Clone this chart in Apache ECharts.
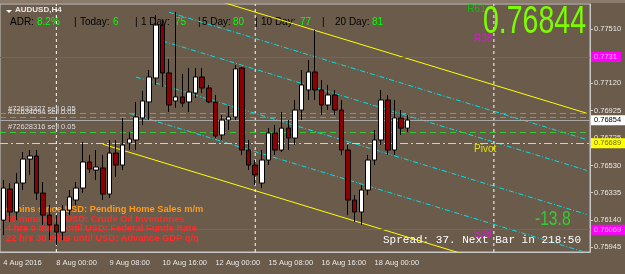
<!DOCTYPE html>
<html><head><meta charset="utf-8">
<script src="https://cdn.jsdelivr.net/npm/echarts@6/dist/echarts.min.js"></script>
<style>html,body{margin:0;padding:0;background:#6b5b4b}#c{width:625px;height:274px}</style>
</head><body><div id="c"></div>
<script>
// ---------- data ----------
const barDays = ['4 Aug','5 Aug','8 Aug','9 Aug','10 Aug','11 Aug','12 Aug','15 Aug','16 Aug','17 Aug','18 Aug'];
const barHours = ['00:00','04:00','08:00','12:00','16:00','20:00'];
const futureSlots = 27;
// candles: [open, close, low, high]
const candles = [
[0.76138,0.76368,0.76031,0.76426],
[0.76361,0.76196,0.76124,0.76404],
[0.76196,0.76404,0.76138,0.76476],
[0.76404,0.76576,0.76354,0.76627],
[0.76576,0.76598,0.76462,0.76641],
[0.76598,0.76332,0.76282,0.76641],
[0.76332,0.76174,0.76103,0.76411],
[0.76174,0.76103,0.75995,0.76246],
[0.76103,0.76052,0.75959,0.76174],
[0.76052,0.76210,0.75995,0.76246],
[0.76210,0.76304,0.76174,0.76354],
[0.76282,0.76368,0.76246,0.76411],
[0.76368,0.76555,0.76332,0.76699],
[0.76555,0.76505,0.76476,0.76605],
[0.76497,0.76519,0.76426,0.76641],
[0.76512,0.76325,0.76282,0.76605],
[0.76325,0.76619,0.76296,0.76713],
[0.76619,0.76533,0.76447,0.76713],
[0.76533,0.76677,0.76497,0.76871],
[0.76691,0.76720,0.76641,0.76770],
[0.76713,0.76878,0.76641,0.76986],
[0.76871,0.76993,0.76820,0.77065],
[0.76986,0.77165,0.76856,0.77215],
[0.77158,0.77538,0.77108,0.77610],
[0.77538,0.77194,0.77093,0.77574],
[0.77194,0.76964,0.76914,0.77294],
[0.76993,0.77022,0.76943,0.77632],
[0.77022,0.76978,0.76950,0.77187],
[0.76986,0.77057,0.76914,0.77230],
[0.77050,0.77165,0.77014,0.77230],
[0.77165,0.77086,0.77050,0.77230],
[0.77086,0.76986,0.76978,0.77108],
[0.76986,0.76742,0.76727,0.77036],
[0.76749,0.76856,0.76713,0.76892],
[0.76856,0.76878,0.76784,0.76957],
[0.76878,0.77223,0.76856,0.77251],
[0.77230,0.76641,0.76605,0.77237],
[0.76641,0.76533,0.76497,0.76713],
[0.76533,0.76462,0.76390,0.76569],
[0.76404,0.76569,0.76368,0.76641],
[0.76569,0.76763,0.76533,0.76798],
[0.76763,0.76641,0.76605,0.76820],
[0.76641,0.76798,0.76627,0.76914],
[0.76798,0.76727,0.76641,0.76856],
[0.76727,0.76928,0.76677,0.77000],
[0.76928,0.77108,0.76856,0.77215],
[0.77072,0.77201,0.77000,0.77287],
[0.77201,0.77072,0.77000,0.77503],
[0.77072,0.76964,0.76892,0.77144],
[0.76964,0.77036,0.76928,0.77108],
[0.77036,0.76928,0.76892,0.77072],
[0.76928,0.76641,0.76605,0.77000],
[0.76641,0.76282,0.76174,0.76677],
[0.76282,0.76196,0.76124,0.76318],
[0.76196,0.76354,0.76103,0.76390],
[0.76354,0.76569,0.76318,0.76605],
[0.76569,0.76713,0.76533,0.76784],
[0.76713,0.77000,0.76677,0.77072],
[0.77000,0.76641,0.76605,0.77036],
[0.76641,0.76871,0.76605,0.77000],
[0.76871,0.76798,0.76749,0.76928],
[0.76798,0.76856,0.76770,0.76892]
];
const yTicks = [0.75945,0.76140,0.76335,0.76530,0.76725,0.76925,0.77120,0.77510];
const priceMin = 0.75909, priceMax = 0.77689;
const levelR38 = 0.77310, levelS38 = 0.76069, levelPivot = 0.76689, bidPrice = 0.76854;
const orders = [
  {price:0.76903, text:'#72633327 sell 0.05'},
  {price:0.76878, text:'#72634094 sell 0.05'},
  {price:0.76770, text:'#72628316 sell 0.05'}
];
// trend lines: [startIndex, startPrice, endIndex, endPrice]
const yellowLines = [
  [0,0.78182,88,0.76905],
  [15,0.76683,88,0.75624]
];
const cyanLines = [
  [25,0.77630,88,0.76716],
  [24,0.77424,88,0.76495],
  [20,0.77165,88,0.76179],
  [19,0.76905,88,0.75904]
];
const separators = [8,38,74];
const levelTexts = [
  {idx:70.3, price:0.77653, text:'R61', color:'#00d000'},
  {idx:70.8, price:0.77438, text:'R38', color:'#ff00ff'},
  {idx:70.5, price:0.76648, text:'Pivot', color:'#ffff00'},
  {idx:70.5, price:0.76038, text:'S38', color:'#ff00ff'}
];
const adrItems = [
  ['ADR:','#000',10],['8.2%','#00ff00',37],['|','#000',74],['Today:','#000',80],['6','#00ff00',113],
  ['|','#000',135],['1 Day:','#000',141],['75','#00ff00',175],['|','#000',198],['5 Day:','#000',202],
  ['80','#00ff00',233],['|','#000',255],['10 Day:','#000',261],['77','#00ff00',300],['|','#000',322],
  ['20 Day:','#000',335],['81','#00ff00',372]
];
const newsLines = [
  ['0 mins since USD: Pending Home Sales m/m','#ff9a1a'],
  ['30 mins until USD: Crude Oil Inventories','#ff2a2a'],
  ['4 hrs 0 mins until USD: Federal Funds Rate','#ff2a2a'],
  ['22 hrs 30 mins until USD: Advance GDP q/q','#ff2a2a']
];
const lastPriceText = '0.76844';
const pipsText = '-13.8';
const spreadText = 'Spread: 37. Next Bar in 218:50';

// ---------- build ----------
const categories = [];
categories.push('4 Aug 16:00','4 Aug 20:00');
for (let d = 1; d < barDays.length; d++) for (const h of barHours) categories.push(barDays[d] + ' ' + h);
for (let i = 0; i < futureSlots; i++) categories.push('f' + i);

const lineSeries = [];
function seg(a, color, type, w) {
  lineSeries.push({type:'line', data:[[a[0],a[1]],[a[2],a[3]]], showSymbol:false, silent:true,
    animation:false, z:3, lineStyle:{color:color, type:type, width:w||1}});
}
yellowLines.forEach(l => seg(l, '#ffff00', 'solid'));
cyanLines.forEach(l => seg(l, '#00e0e8', [5,2,1,2]));
separators.forEach(i => seg([i, priceMin, i, priceMax], '#ffffff', [3,3]));

const priceLabel = (bg, fg) => ({show:true, position:'end', distance:1, backgroundColor:bg, color:fg,
  fontFamily:'Liberation Sans', fontSize:7.5, padding:[1,4,1,3]});

const chart = echarts.init(document.getElementById('c'), null, {renderer:'canvas'});
const graphics = [];
graphics.push({type:'rect', z:0, shape:{x:0, y:0, width:625, height:3}, style:{fill:'#8a7b6c'}});
adrItems.forEach(it => graphics.push({type:'text', x:it[2], y:17, z:1,
  style:{text:it[0], fill:it[1], font:'10px "Liberation Sans"'}}));
graphics.push({type:'text', x:15, y:6, z:1, style:{text:'AUDUSD,H4', fill:'#e8e8e8', font:'bold 8px "Liberation Sans"'}});
graphics.push({type:'polygon', z:1, shape:{points:[[6,10],[12,10],[9,13]]}, style:{fill:'#ffffff'}});
newsLines.forEach((l, i) => graphics.push({type:'text', x:6, y:205 + i*9.7, z:1,
  style:{text:l[0], fill:l[1], font:'bold 9.3px "Liberation Sans"'}}));
graphics.push({type:'text', x:483, y:4, z:20, scaleX:0.75,
  style:{text:lastPriceText, fill:'#7cfc00', font:'38px "Liberation Sans"'}});
graphics.push({type:'text', x:535, y:209, z:20, scaleX:0.78,
  style:{text:pipsText, fill:'#33cc33', font:'20px "Liberation Sans"'}});
graphics.push({type:'text', x:383, y:235, z:20,
  style:{text:spreadText, fill:'#ffffff', font:'11px "Liberation Mono"'}});

chart.setOption({
  backgroundColor:'#6b5b4b',
  animation:false,
  grid:{left:0, right:35, top:4, bottom:22, show:true, borderColor:'#c8c8c8', borderWidth:1, backgroundColor:'transparent'},
  xAxis:{type:'category', data:categories, boundaryGap:true,
    axisLine:{lineStyle:{color:'#c8c8c8'}},
    axisTick:{alignWithLabel:true, interval:7, length:4, lineStyle:{color:'#c8c8c8'}},
    axisLabel:{interval:7, color:'#e8e8e8', fontSize:7.5, fontFamily:'Liberation Sans', align:'left', margin:7,
      formatter:(v, i) => i === 0 ? '4 Aug 2016' : (v[0] === 'f' ? '' : v)},
    splitLine:{show:false}},
  yAxis:{type:'value', position:'right', min:priceMin, max:priceMax, scale:true,
    axisLine:{show:true, lineStyle:{color:'#c8c8c8'}},
    axisTick:{show:true, length:3, customValues:yTicks, lineStyle:{color:'#c8c8c8'}},
    axisLabel:{customValues:yTicks, color:'#e8e8e8', fontSize:7.5, fontFamily:'Liberation Sans', margin:4,
      formatter:v => v.toFixed(5)},
    splitLine:{show:false}},
  graphic:graphics,
  series:[
    {type:'candlestick', data:candles, z:5, barWidth:5,
      itemStyle:{color:'#ffffff', color0:'#8b0000', borderColor:'#000000', borderColor0:'#000000', borderWidth:1},
      markLine:{symbol:'none', silent:true, animation:false, precision:5,
        data:[
          {yAxis:levelR38, lineStyle:{color:'#ff00ff', type:'solid', width:1}, label:priceLabel('#ff00ff','#ffb8ff')},
          {yAxis:levelS38, lineStyle:{color:'#ff00ff', type:'solid', width:1}, label:priceLabel('#ff00ff','#ffb8ff')},
          {yAxis:levelPivot, lineStyle:{color:'#e8e800', type:[8,3,2,3], width:1}, label:priceLabel('#ffff00','#6b6b20')},
          {yAxis:bidPrice, lineStyle:{color:'#a8a8a8', type:'solid', width:1}, label:priceLabel('#ffffff','#000000')}
        ].concat(orders.map(o => ({yAxis:o.price, lineStyle:{color:'#33cc33', type:[6,4], width:1},
          label:{show:true, position:'insideStartTop', distance:[8,1], formatter:o.text, color:'#dcdcdc',
            fontSize:7.5, fontFamily:'Liberation Sans'}})))
      }
    },
    {type:'scatter', symbolSize:0, silent:true, z:6,
      data:levelTexts.map(t => ({value:[t.idx, t.price], label:{show:true, position:'right', distance:0,
        formatter:t.text, color:t.color, fontSize:10, fontFamily:'Liberation Sans'}}))}
  ].concat(lineSeries)
});
</script>
</body></html>
